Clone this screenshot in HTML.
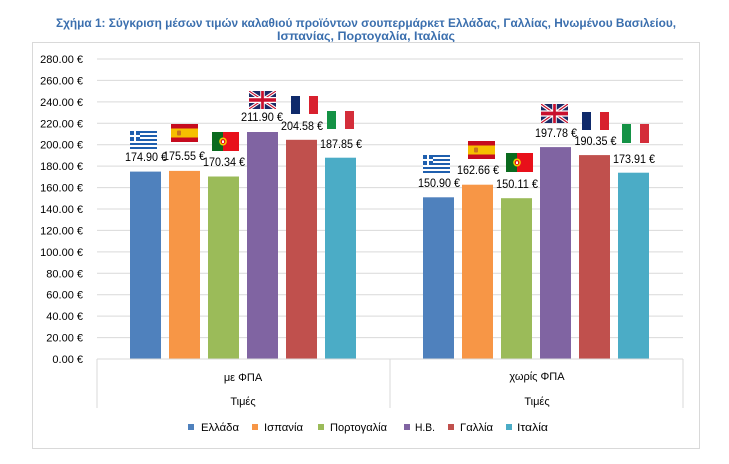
<!DOCTYPE html>
<html>
<head>
<meta charset="utf-8">
<style>
  html,body{margin:0;padding:0;background:#fff;}
  svg{display:block;}
  text{font-family:"Liberation Sans","DejaVu Sans",sans-serif;}
</style>
</head>
<body>
<svg width="729" height="464" viewBox="0 0 729 464" xmlns="http://www.w3.org/2000/svg">
  <defs>
    <symbol id="gr" viewBox="0 0 27 18" preserveAspectRatio="none">
      <rect width="27" height="18" fill="#1f5fae"/>
      <rect y="2" width="27" height="2" fill="#fff"/>
      <rect y="6" width="27" height="2" fill="#fff"/>
      <rect y="10" width="27" height="2" fill="#fff"/>
      <rect y="14" width="27" height="2" fill="#fff"/>
      <rect width="10" height="10" fill="#1f5fae"/>
      <rect y="4" width="10" height="2" fill="#fff"/>
      <rect x="4" width="2" height="10" fill="#fff"/>
    </symbol>
    <symbol id="es" viewBox="0 0 27 18" preserveAspectRatio="none">
      <rect width="27" height="18" fill="#c60b1e"/>
      <rect y="4.5" width="27" height="9" fill="#f6c000"/>
      <rect x="6" y="6.5" width="4" height="5" rx="1" fill="#c8731e"/>
    </symbol>
    <symbol id="pt" viewBox="0 0 27 18" preserveAspectRatio="none">
      <rect width="27" height="18" fill="#e8101a"/>
      <rect width="11" height="18" fill="#0a6a1e"/>
      <circle cx="11" cy="9" r="3.8" fill="#f4d000"/>
      <circle cx="11" cy="9" r="2.4" fill="#e8101a"/>
      <rect x="10" y="8" width="2" height="2.4" fill="#fff"/>
    </symbol>
    <symbol id="uk" viewBox="0 0 60 30" preserveAspectRatio="none">
      <rect width="60" height="30" fill="#1b2a66"/>
      <path d="M0,0 L60,30 M60,0 L0,30" stroke="#fff" stroke-width="6"/>
      <path d="M0,0 L60,30 M60,0 L0,30" stroke="#c8102e" stroke-width="2"/>
      <path d="M30,0 V30 M0,15 H60" stroke="#fff" stroke-width="10"/>
      <path d="M30,0 V30 M0,15 H60" stroke="#c8102e" stroke-width="6"/>
    </symbol>
    <symbol id="fr" viewBox="0 0 27 18" preserveAspectRatio="none">
      <rect width="9" height="18" fill="#0f2a6b"/>
      <rect x="9" width="9" height="18" fill="#fff"/>
      <rect x="18" width="9" height="18" fill="#d8202e"/>
    </symbol>
    <symbol id="it" viewBox="0 0 27 18" preserveAspectRatio="none">
      <rect width="9" height="18" fill="#149245"/>
      <rect x="9" width="9" height="18" fill="#fff"/>
      <rect x="18" width="9" height="18" fill="#d42d3a"/>
    </symbol>
  </defs>

  <!-- title -->
  <text x="366" y="27" text-anchor="middle" font-size="12" font-weight="bold" fill="#3b6fae" textLength="620" lengthAdjust="spacingAndGlyphs">Σχήμα 1: Σύγκριση μέσων τιμών καλαθιού προϊόντων σουπερμάρκετ Ελλάδας, Γαλλίας, Ηνωμένου Βασιλείου,</text>
  <text x="366" y="40" text-anchor="middle" font-size="12" font-weight="bold" fill="#3b6fae" textLength="178" lengthAdjust="spacingAndGlyphs">Ισπανίας, Πορτογαλία, Ιταλίας</text>

  <!-- frame -->
  <rect x="32.5" y="42.5" width="667" height="406" fill="#fff" stroke="#d9d9d9" stroke-width="1"/>

  <!-- gridlines -->
  <g stroke="#d9d9d9" stroke-width="1">
    <line x1="97" x2="683" y1="337.6" y2="337.6"/>
    <line x1="97" x2="683" y1="316.1" y2="316.1"/>
    <line x1="97" x2="683" y1="294.7" y2="294.7"/>
    <line x1="97" x2="683" y1="273.3" y2="273.3"/>
    <line x1="97" x2="683" y1="251.9" y2="251.9"/>
    <line x1="97" x2="683" y1="230.4" y2="230.4"/>
    <line x1="97" x2="683" y1="209" y2="209"/>
    <line x1="97" x2="683" y1="187.6" y2="187.6"/>
    <line x1="97" x2="683" y1="166.1" y2="166.1"/>
    <line x1="97" x2="683" y1="144.7" y2="144.7"/>
    <line x1="97" x2="683" y1="123.3" y2="123.3"/>
    <line x1="97" x2="683" y1="101.9" y2="101.9"/>
    <line x1="97" x2="683" y1="80.4" y2="80.4"/>
    <line x1="97" x2="683" y1="59" y2="59"/>
  </g>

  <!-- y labels -->
  <g font-size="11" fill="#000" text-anchor="end">
    <text x="83" y="363">0.00 €</text>
    <text x="83" y="341.6">20.00 €</text>
    <text x="83" y="320.1">40.00 €</text>
    <text x="83" y="298.7">60.00 €</text>
    <text x="83" y="277.3">80.00 €</text>
    <text x="83" y="255.9">100.00 €</text>
    <text x="83" y="234.4">120.00 €</text>
    <text x="83" y="213">140.00 €</text>
    <text x="83" y="191.6">160.00 €</text>
    <text x="83" y="170.1">180.00 €</text>
    <text x="83" y="148.7">200.00 €</text>
    <text x="83" y="127.3">220.00 €</text>
    <text x="83" y="105.9">240.00 €</text>
    <text x="83" y="84.4">260.00 €</text>
    <text x="83" y="63">280.00 €</text>
  </g>

  <!-- bars group 1 -->
  <rect x="130" y="171.6" width="31" height="187.4" fill="#4f81bd"/>
  <rect x="169" y="170.9" width="31" height="188.1" fill="#f79646"/>
  <rect x="208" y="176.5" width="31" height="182.5" fill="#9bbb59"/>
  <rect x="247" y="132" width="31" height="227" fill="#8064a2"/>
  <rect x="286" y="139.8" width="31" height="219.2" fill="#c0504d"/>
  <rect x="325" y="157.7" width="31" height="201.3" fill="#4bacc6"/>
  <!-- bars group 2 -->
  <rect x="423" y="197.3" width="31" height="161.7" fill="#4f81bd"/>
  <rect x="462" y="184.7" width="31" height="174.3" fill="#f79646"/>
  <rect x="501" y="198.2" width="31" height="160.8" fill="#9bbb59"/>
  <rect x="540" y="147.1" width="31" height="211.9" fill="#8064a2"/>
  <rect x="579" y="155.1" width="31" height="203.9" fill="#c0504d"/>
  <rect x="618" y="172.7" width="31" height="186.3" fill="#4bacc6"/>

  <!-- category axis -->
  <g stroke="#d9d9d9" stroke-width="1">
    <line x1="97" x2="683" y1="359" y2="359"/>
    <line x1="97" x2="97" y1="359" y2="408"/>
    <line x1="390" x2="390" y1="359" y2="408"/>
    <line x1="683" x2="683" y1="359" y2="408"/>
  </g>
  <g font-size="11" fill="#000" text-anchor="middle">
    <text x="243" y="381">με ΦΠΑ</text>
    <text x="243" y="405">Τιμές</text>
    <text x="537" y="380">χωρίς ΦΠΑ</text>
    <text x="537" y="405">Τιμές</text>
  </g>

  <!-- flags -->
  <use href="#gr" x="130" y="131" width="27" height="18"/>
  <use href="#es" x="171" y="124" width="27" height="18"/>
  <use href="#pt" x="212" y="132" width="27" height="19"/>
  <use href="#uk" x="249" y="91" width="27" height="18"/>
  <use href="#fr" x="291" y="96" width="27" height="18"/>
  <use href="#it" x="327" y="111" width="27" height="18"/>

  <use href="#gr" x="423" y="155" width="27" height="18"/>
  <use href="#es" x="468" y="141" width="27" height="18"/>
  <use href="#pt" x="506" y="153" width="27" height="19"/>
  <use href="#uk" x="541" y="104" width="27" height="19"/>
  <use href="#fr" x="582" y="112" width="27" height="18"/>
  <use href="#it" x="622" y="124" width="27" height="19"/>

  <!-- data labels -->
  <g font-size="12" fill="#000" text-anchor="middle">
    <text x="146" y="161" textLength="42" lengthAdjust="spacingAndGlyphs">174.90 €</text>
    <text x="184" y="160" textLength="42" lengthAdjust="spacingAndGlyphs">175.55 €</text>
    <text x="224" y="166" textLength="42" lengthAdjust="spacingAndGlyphs">170.34 €</text>
    <text x="262" y="121" textLength="42" lengthAdjust="spacingAndGlyphs">211.90 €</text>
    <text x="302" y="130" textLength="42" lengthAdjust="spacingAndGlyphs">204.58 €</text>
    <text x="341" y="148" textLength="42" lengthAdjust="spacingAndGlyphs">187.85 €</text>

    <text x="439" y="187" textLength="42" lengthAdjust="spacingAndGlyphs">150.90 €</text>
    <text x="478" y="174" textLength="42" lengthAdjust="spacingAndGlyphs">162.66 €</text>
    <text x="517" y="188" textLength="42" lengthAdjust="spacingAndGlyphs">150.11 €</text>
    <text x="556" y="137" textLength="42" lengthAdjust="spacingAndGlyphs">197.78 €</text>
    <text x="595.5" y="145" textLength="42" lengthAdjust="spacingAndGlyphs">190.35 €</text>
    <text x="634" y="163" textLength="42" lengthAdjust="spacingAndGlyphs">173.91 €</text>
  </g>

  <!-- legend -->
  <rect x="188" y="424" width="6" height="6" fill="#4f81bd"/>
  <rect x="252" y="424" width="6" height="6" fill="#f79646"/>
  <rect x="318" y="424" width="6" height="6" fill="#9bbb59"/>
  <rect x="404" y="424" width="6" height="6" fill="#8064a2"/>
  <rect x="448" y="424" width="6" height="6" fill="#c0504d"/>
  <rect x="506" y="424" width="6" height="6" fill="#4bacc6"/>
  <g font-size="11" fill="#000">
    <text x="201" y="431" textLength="38" lengthAdjust="spacingAndGlyphs">Ελλάδα</text>
    <text x="264" y="431" textLength="39" lengthAdjust="spacingAndGlyphs">Ισπανία</text>
    <text x="330" y="431" textLength="57" lengthAdjust="spacingAndGlyphs">Πορτογαλία</text>
    <text x="415" y="431" textLength="20" lengthAdjust="spacingAndGlyphs">Η.Β.</text>
    <text x="460" y="431" textLength="33" lengthAdjust="spacingAndGlyphs">Γαλλία</text>
    <text x="517" y="431" textLength="31" lengthAdjust="spacingAndGlyphs">Ιταλία</text>
  </g>
</svg>
</body>
</html>
